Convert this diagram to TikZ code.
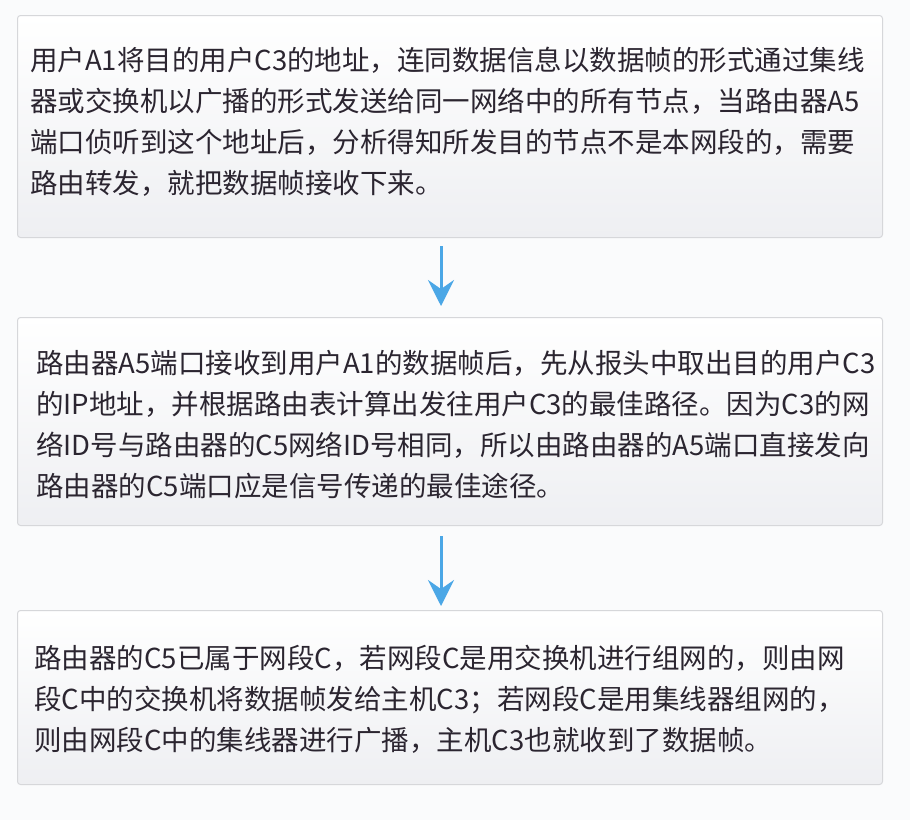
\documentclass[tikz,border=0pt]{standalone}
\usepackage{fontspec}
\setmainfont{Noto Sans CJK SC}
\usetikzlibrary{arrows.meta}
\definecolor{pagebg}{HTML}{FAFBFC}
\definecolor{boxline}{HTML}{D6D7DA}
\definecolor{boxbot}{HTML}{EEEFF2}
\definecolor{txt}{HTML}{2B2530}
\definecolor{arrowblue}{HTML}{4BA7E6}
\tikzset{
  flowbox/.style={draw=boxline, line width=1pt, rounded corners=3pt,
    top color=white, bottom color=boxbot, inner sep=0pt,
    minimum width=865pt, anchor=north west},
  flowtext/.style={anchor=north west, inner sep=0pt, align=left, text=txt,
    font=\fontsize{27.5pt}{41pt}\selectfont},
  flowarrow/.style={draw=arrowblue, line width=3pt,
    -{Stealth[length=26pt, width=26pt, inset=9pt]}}
}
\begin{document}
\begin{tikzpicture}[x=1pt,y=-1pt]
\fill[pagebg] (0,0) rectangle (910,820);
\useasboundingbox (0,0) rectangle (910,820);
\node[flowbox, minimum height=222pt] (b1) at (17,15) {};
\node[flowbox, minimum height=208pt] (b2) at (17,317) {};
\node[flowbox, minimum height=174pt] (b3) at (17,610) {};
\node[flowtext] (t1) at (30,47) {用户A1将目的用户C3的地址，连同数据信息以数据帧的形式通过集线\\
器或交换机以广播的形式发送给同一网络中的所有节点，当路由器A5\\
端口侦听到这个地址后，分析得知所发目的节点不是本网段的，需要\\
路由转发，就把数据帧接收下来。};
\node[flowtext] (t2) at (36,350) {路由器A5端口接收到用户A1的数据帧后，先从报头中取出目的用户C3\\
的IP地址，并根据路由表计算出发往用户C3的最佳路径。因为C3的网\\
络ID号与路由器的C5网络ID号相同，所以由路由器的A5端口直接发向\\
路由器的C5端口应是信号传递的最佳途径。};
\node[flowtext] (t3) at (34,645) {路由器的C5已属于网段C，若网段C是用交换机进行组网的，则由网\\
段C中的交换机将数据帧发给主机C3；若网段C是用集线器组网的，\\
则由网段C中的集线器进行广播，主机C3也就收到了数据帧。};
\draw[flowarrow, shorten <=8pt, shorten >=11pt] (b1.south -| 441,0) -- (b2.north -| 441,0);
\draw[flowarrow, shorten <=10pt, shorten >=4pt] (b2.south -| 441,0) -- (b3.north -| 441,0);
\end{tikzpicture}
\end{document}
